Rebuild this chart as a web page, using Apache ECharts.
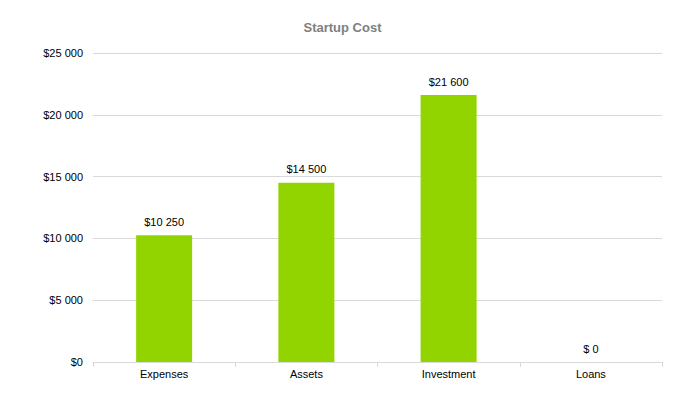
<!DOCTYPE html>
<html>
<head>
<meta charset="utf-8">
<script src="https://cdn.jsdelivr.net/npm/echarts@6/dist/echarts.min.js"></script>
<style>
    html, body {margin: 0; padding: 0; background: #fff;}
    #chart {width: 685px; height: 419px;}
</style>
</head>
<body>
<div id="chart"></div>
<script>
let categories = ['Expenses', 'Assets', 'Investment', 'Loans'];
let costValues = [10250, 14500, 21600, 0];

let money = (v) => '$' + String(v).replace(/\B(?=(\d{3})+(?!\d))/g, ' ');

let chart = echarts.init(document.getElementById('chart'), null, {renderer: 'svg'});

chart.setOption({
    animation: false,
    title: {
        text: 'Startup Cost',
        left: 'center',
        top: 16,
        textStyle: {
            fontFamily: 'Liberation Sans',
            fontSize: 13,
            fontWeight: 'bold',
            color: '#808080'
        }
    },
    grid: {
        left: 93,
        right: 23,
        top: 53,
        bottom: 57
    },
    xAxis: {
        type: 'category',
        data: categories,
        axisLine: {lineStyle: {color: '#d9d9d9'}},
        axisTick: {show: true, length: 5, lineStyle: {color: '#d9d9d9'}},
        axisLabel: {
            color: '#000',
            fontFamily: 'Liberation Sans',
            fontSize: 11,
            margin: 6
        }
    },
    yAxis: {
        type: 'value',
        min: 0,
        max: 25000,
        interval: 5000,
        axisLine: {show: false},
        axisTick: {show: false},
        splitLine: {lineStyle: {color: '#d9d9d9'}},
        axisLabel: {
            color: '#000',
            fontFamily: 'Liberation Sans',
            fontSize: 11,
            margin: 10,
            formatter: money
        }
    },
    series: [{
        type: 'bar',
        data: costValues,
        barWidth: 56,
        itemStyle: {color: '#92d400'},
        label: {
            show: true,
            position: 'top',
            distance: 8,
            color: '#000',
            fontFamily: 'Liberation Sans',
            fontSize: 11,
            formatter: (p) => p.value === 0 ? '$ 0' : money(p.value)
        }
    }]
});
</script>
</body>
</html>
